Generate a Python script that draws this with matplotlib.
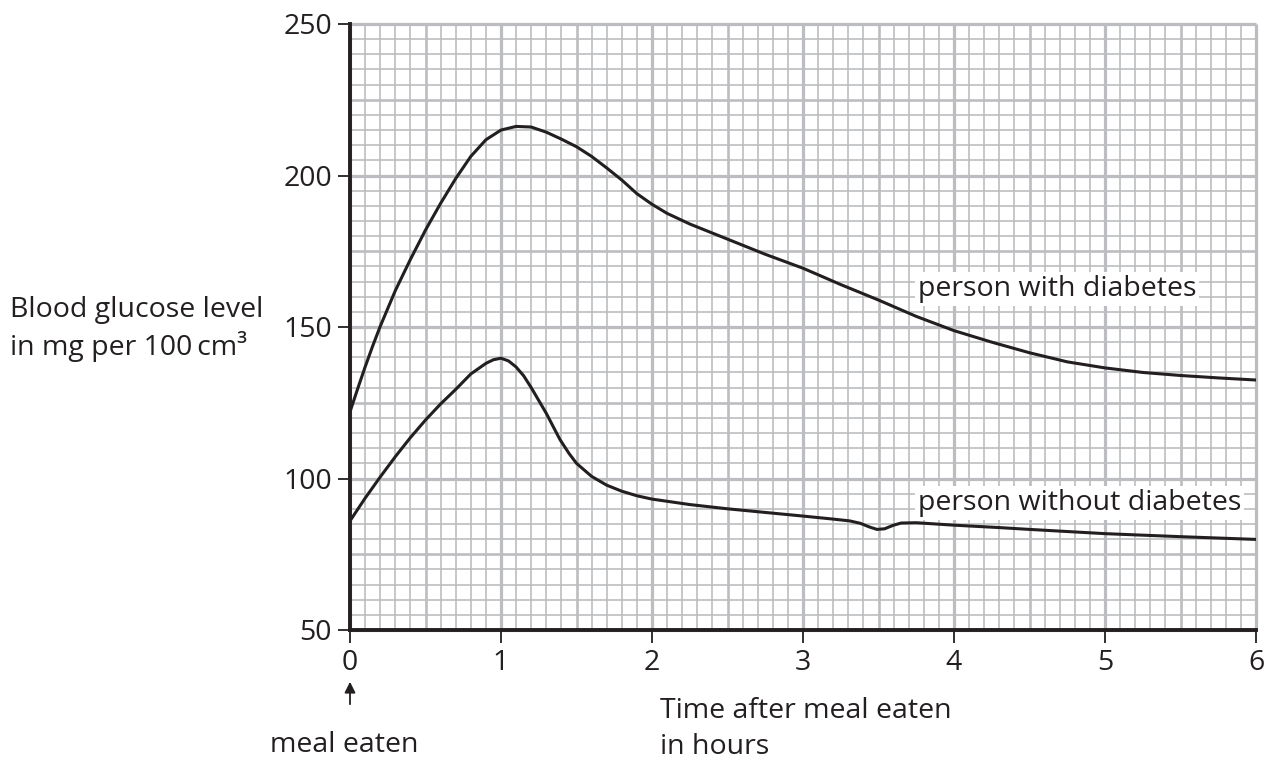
import matplotlib
matplotlib.use('Agg')
import matplotlib.pyplot as plt

# ---- data ----
hours_with = [0.0, 0.05, 0.1, 0.15, 0.2, 0.3, 0.4, 0.5, 0.6, 0.7, 0.8, 0.9,
              1.0, 1.1, 1.2, 1.3, 1.4, 1.5, 1.6, 1.7, 1.8, 1.9, 2.0, 2.1,
              2.25, 2.5, 2.75, 3.0, 3.25, 3.5, 3.75, 4.0, 4.25, 4.5, 4.75,
              5.0, 5.25, 5.5, 5.75, 6.0]
glucose_with = [122, 129.5, 136.8, 143.7, 150.2, 162, 172.3, 182, 190.8, 199, 206.3, 211.8,
                215, 216.2, 216, 214.3, 212, 209.5, 206.3, 202.5, 198.5, 194, 190.5, 187.5,
                184, 179, 174, 169.4, 164, 158.9, 153.5, 148.8, 145, 141.5, 138.5,
                136.5, 135, 134, 133.2, 132.5]

hours_without = [0.0, 0.1, 0.2, 0.3, 0.4, 0.5, 0.6, 0.7, 0.8, 0.9, 0.95, 1.0,
                 1.05, 1.1, 1.15, 1.2, 1.3, 1.39, 1.45, 1.5, 1.6, 1.7, 1.8, 1.9,
                 2.0, 2.25, 2.5, 2.75, 3.0, 3.2, 3.31, 3.38, 3.44, 3.49, 3.54,
                 3.6, 3.65, 3.75, 4.0, 4.3, 4.5, 5.0, 5.5, 6.0]
glucose_without = [86, 93.5, 100.5, 107.2, 113.5, 119.3, 124.6, 129.4, 134.5, 138.0, 139.2, 139.7,
                   138.8, 136.8, 133.9, 130, 121.5, 112.9, 108.3, 105, 100.7, 97.8, 95.8, 94.3,
                   93.2, 91.4, 90, 88.8, 87.6, 86.6, 86.0, 85.2, 84.0, 83.2, 83.4,
                   84.6, 85.3, 85.4, 84.6, 83.8, 83.2, 81.8, 80.8, 79.9]

x_ticks = [0, 1, 2, 3, 4, 5, 6]
y_ticks = [50, 100, 150, 200, 250]
label_with = "person with diabetes"
label_without = "person without diabetes"

INK = '#231f20'
GRID = '#bcbdc0'
FS = 20.5

plt.rcParams['font.family'] = ['Open Sans', 'DejaVu Sans']

fig = plt.figure(figsize=(12.72, 7.67), dpi=100)
W, H = 1272, 767
ax = fig.add_axes([350 / W, 137 / H, 906 / W, 606 / H])
ax.set_xlim(0, 6)
ax.set_ylim(50, 250)

# graph-paper grid
for i in range(0, 61):
    v = i / 10
    if i % 10 == 0:
        lw = 2.3
    elif i % 5 == 0:
        lw = 1.9
    else:
        lw = 1.2
    ax.plot([v, v], [50, 250], color=GRID, lw=lw, zorder=1, clip_on=False,
            solid_capstyle='butt')
for j in range(0, 41):
    v = 50 + j * 5
    if j % 10 == 0:
        lw = 2.3
    elif j % 5 == 0:
        lw = 1.9
    else:
        lw = 1.2
    ax.plot([0, 6], [v, v], color=GRID, lw=lw, zorder=1, clip_on=False,
            solid_capstyle='butt')

# curves
ax.plot(hours_with, glucose_with, color=INK, lw=2.2, zorder=3,
        solid_joinstyle='round', solid_capstyle='round')
ax.plot(hours_without, glucose_without, color=INK, lw=2.2, zorder=3,
        solid_joinstyle='round', solid_capstyle='round')

# curve labels
bbox = dict(facecolor='white', edgecolor='none', pad=2)
ax.text(3.76, 162.5, label_with, fontsize=FS, color=INK, va='center',
        ha='left', bbox=bbox, zorder=4)
ax.text(3.76, 92, label_without, fontsize=FS, color=INK, va='center',
        ha='left', bbox=bbox, zorder=4)

# spines & ticks
for s in ['top', 'right']:
    ax.spines[s].set_visible(False)
for s in ['left', 'bottom']:
    ax.spines[s].set_color(INK)
    ax.spines[s].set_linewidth(2.8)
    ax.spines[s].set_zorder(5)
ax.set_xticks(x_ticks)
ax.set_yticks(y_ticks)
ax.set_xticklabels([str(t) for t in x_ticks])
ax.set_yticklabels([str(t) for t in y_ticks])
ax.tick_params(direction='out', length=9, width=1.3, color=INK,
               labelcolor=INK, labelsize=FS)
ax.tick_params(axis='x', pad=5)
ax.tick_params(axis='y', pad=4)

# axis titles
fig.text(10 / W, 457 / H, "Blood glucose level", fontsize=FS, color=INK,
         ha='left', va='center')
fig.text(10 / W, 421 / H, "in mg per 100\u2009cm³", fontsize=FS, color=INK,
         ha='left', va='center')
fig.text(660 / W, 56 / H, "Time after meal eaten", fontsize=FS, color=INK,
         ha='left', va='center')
fig.text(660 / W, 20 / H, "in hours", fontsize=FS, color=INK,
         ha='left', va='center')

# meal eaten arrow
ax.annotate('', xy=(0, H - 679), xytext=(0, H - 707),
            xycoords=('data', 'figure pixels'),
            textcoords=('data', 'figure pixels'),
            arrowprops=dict(arrowstyle='-|>', color=INK, lw=1.3,
                            mutation_scale=16))
fig.text(344 / W, 22 / H, "meal eaten", fontsize=FS, color=INK,
         ha='center', va='center')

fig.savefig('out.png', dpi=100)
